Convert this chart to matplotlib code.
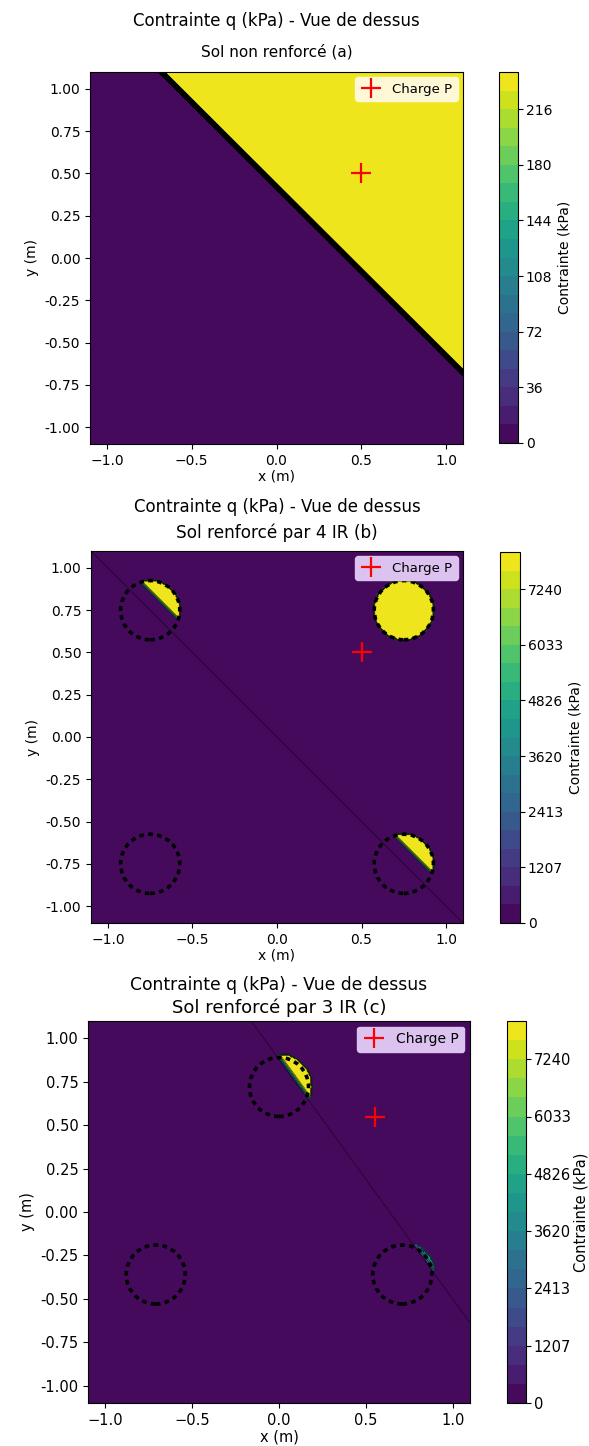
import numpy as np
import matplotlib
matplotlib.use("Agg")
import matplotlib.pyplot as plt
from matplotlib.patches import Circle

# --- values ---
titles = ["Sol non renforcé (a)", "Sol renforcé par 4 IR (b)", "Sol renforcé par 3 IR (c)"]
main_title = "Contrainte q (kPa) - Vue de dessus"
x_ticks = [-1.0, -0.5, 0.0, 0.5, 1.0]
y_ticks = [-1.0, -0.75, -0.5, -0.25, 0.0, 0.25, 0.5, 0.75, 1.0]

vmax_a = 240.0
cbar_ticks_a = [0, 36, 72, 108, 144, 180, 216]
vmax_bc = 8044.0
cbar_ticks_bc = [0, 1207, 2413, 3620, 4826, 6033, 7240]

load_x = [0.5, 0.5, 0.55]
load_y = [0.5, 0.5, 0.55]

# piles (inclusions rigides)
piles_b_x = [-0.75, 0.75, -0.75, 0.75]
piles_b_y = [0.75, 0.75, -0.75, -0.75]
peak_b = [8044, 8044, 8044, 8044]
pile_r_b = 0.175
piles_c_x = [0.0, -0.71, 0.71]
piles_c_y = [0.72, -0.36, -0.36]
peak_c = [8044, 8044, 4200]
pile_r_c = 0.17

# neutral line a*x + b*y = c for each panel, contact on the positive side
line_a = (1.0, 1.0, 0.40)
line_b = (1.0, 1.0, 0.0)
line_c = (1.38, 1.0, 0.879)

# --- pixel layout (figure 589 x 1446) ---
W, H = 589, 1446
fig = plt.figure(figsize=(W / 100, H / 100), dpi=100)


def box(l, r, t, b):
    return [l / W, 1 - b / H, (r - l) / W, (b - t) / H]


ax_boxes = [box(90, 463, 72, 444), box(91, 463, 551, 923), box(88, 470, 1021, 1403)]
cb_boxes = [box(499, 518, 72, 443), box(500, 520, 552, 923), box(507, 526, 1021, 1403)]
t1_y = [21, 507, 985]
t2_y = [52, 533, 1008]
t1_fs = [12, 12, 12.3]
t2_fs = [11, 12.2, 13]
fs = [10, 10, 10.5]
cb_pad = [4, 4, 2]
leg_face = ["#fff8d6", "#dcc2ef", "#dcc2ef"]


def signed_dist(X, Y, line):
    a, b, c = line
    return (a * X + b * Y - c) / np.hypot(a, b)


def field(X, Y, line, vmax, d0, w, px=None, py=None, peaks=None, r=None):
    d = signed_dist(X, Y, line)
    ramp = np.clip((d - d0) / w, 0, 1)
    if px is None:
        return vmax * ramp
    q = np.zeros_like(X)
    for cx, cy, pk in zip(px, py, peaks):
        inside = (X - cx) ** 2 + (Y - cy) ** 2 <= r ** 2
        q = np.where(inside, pk * ramp, q)
    return q


g = np.linspace(-1.1, 1.1, 221)
X, Y = np.meshgrid(g, g)

fields = [
    field(X, Y, line_a, vmax_a, 0.0, 0.03),
    field(X, Y, line_b, vmax_bc, 0.07, 0.02, piles_b_x, piles_b_y, peak_b, pile_r_b),
    field(X, Y, line_c, vmax_bc, 0.0, 0.025, piles_c_x, piles_c_y, peak_c, pile_r_c + 0.02),
]
vmaxs = [vmax_a, vmax_bc, vmax_bc]
cticks = [cbar_ticks_a, cbar_ticks_bc, cbar_ticks_bc]
lines = [line_a, line_b, line_c]
piles = [None, (piles_b_x, piles_b_y, pile_r_b), (piles_c_x, piles_c_y, pile_r_c)]

for i in range(3):
    ax = fig.add_axes(ax_boxes[i])
    cax = fig.add_axes(cb_boxes[i])
    levels = np.linspace(0, vmaxs[i], 21)
    cf = ax.contourf(X, Y, fields[i], levels=levels, cmap="viridis")
    if i == 0:
        ax.contour(X, Y, fields[i], levels=levels[1:-1], colors="k", linewidths=0.7)
    else:
        ax.contour(X, Y, fields[i], levels=levels[1:-1:4], colors="k", linewidths=0.4,
                   alpha=0.8)
        ax.contour(X, Y, signed_dist(X, Y, lines[i]), levels=[0], colors="k",
                   linewidths=0.8, alpha=0.4)
    if piles[i] is not None:
        pxs, pys, r = piles[i]
        for cx, cy in zip(pxs, pys):
            ax.add_patch(Circle((cx, cy), r, fill=False, color="k", lw=2.6,
                                linestyle=(0, (1.3, 1.2))))
    ax.plot(load_x[i], load_y[i], "+", color="red", ms=14, mew=1.6, label="Charge P")
    leg = ax.legend(loc="upper right", fontsize=fs[i] - 0.5, handlelength=1.6,
                    borderaxespad=0.4, facecolor=leg_face[i], framealpha=1)
    leg.get_frame().set_edgecolor(leg_face[i])
    ax.set_xlim(-1.1, 1.1)
    ax.set_ylim(-1.1, 1.1)
    ax.set_xticks(x_ticks)
    ax.set_yticks(y_ticks)
    ax.set_yticklabels([f"{v:.2f}" for v in y_ticks])
    ax.tick_params(labelsize=fs[i])
    ax.set_ylabel("y (m)", fontsize=fs[i])
    ax.set_xlabel("x (m)", fontsize=fs[i], labelpad=1)

    cb = fig.colorbar(cf, cax=cax, ticks=cticks[i])
    cb.ax.tick_params(labelsize=fs[i], pad=2)
    cb.set_label("Contrainte (kPa)", fontsize=fs[i], labelpad=cb_pad[i])

    cx_title = (ax_boxes[i][0] + ax_boxes[i][2] / 2)
    fig.text(cx_title, 1 - t1_y[i] / H, main_title, ha="center", va="center",
             fontsize=t1_fs[i])
    fig.text(cx_title, 1 - t2_y[i] / H, titles[i], ha="center", va="center",
             fontsize=t2_fs[i])

fig.savefig("out.png", dpi=100)
